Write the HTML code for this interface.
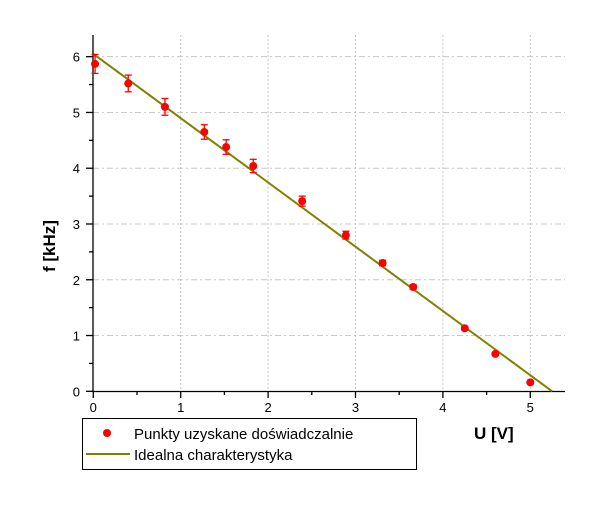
<!DOCTYPE html>
<html><head><meta charset="utf-8"><style>
body{margin:0;background:#fff;}
svg{display:block;font-family:"Liberation Sans",sans-serif;}
</style></head><body>
<svg id="c" width="600" height="505"></svg>
<script>
const xVals=[0.02,0.4,0.82,1.27,1.52,1.83,2.39,2.89,3.31,3.66,4.25,4.6,5.0];
const yVals=[5.87,5.52,5.1,4.65,4.38,4.04,3.41,2.8,2.3,1.87,1.13,0.67,0.16];
const yErr=[0.17,0.15,0.15,0.13,0.13,0.12,0.09,0.07,0.05,0.04,0.03,0.02,0.01];
const lineX=[0,5.25];
const lineY=[6.05,0];
const xTicks=[0,1,2,3,4,5];
const yTicks=[0,1,2,3,4,5,6];
const NS="http://www.w3.org/2000/svg";
const svg=document.getElementById('c');
const X=v=>93.3+v*87.4, Y=v=>391.3-v*55.77;
function mk(t,a,p){const e=document.createElementNS(NS,t);for(const k in a)e.setAttribute(k,a[k]);(p||svg).appendChild(e);return e;}
const grid=mk('g',{});


xTicks.slice(1).forEach(v=>mk('line',{x1:X(v),x2:X(v),y1:35,y2:391,stroke:'#c8c8c8','stroke-dasharray':'2,2'},grid));
yTicks.slice(1).forEach(v=>mk('line',{x1:93,x2:565,y1:Y(v),y2:Y(v),stroke:'#c8c8c8','stroke-dasharray':'6,3,2,3'},grid));
const ax=mk('g',{stroke:'#000','stroke-width':1.3});


mk('line',{x1:93,x2:93,y1:35,y2:392},ax);
mk('line',{x1:92,x2:565,y1:391.5,y2:391.5},ax);
for(let v=0;v<=5.01;v+=0.5)mk('line',{x1:X(v),x2:X(v),y1:391,y2:v%1===0?398:395},ax);
for(let v=0;v<=6.01;v+=0.5)mk('line',{x1:v%1===0?86:89,x2:93,y1:Y(v),y2:Y(v)},ax);
xTicks.forEach(v=>{const t=mk('text',{x:X(v),y:412,'text-anchor':'middle','font-size':13});t.textContent=v;
});
yTicks.forEach(v=>{const t=mk('text',{x:80,y:Y(v)+5,'text-anchor':'end','font-size':13});t.textContent=v;
});
const ln=mk('line',{x1:X(lineX[0]),y1:Y(lineY[0]),x2:X(lineX[1]),y2:Y(lineY[1]),stroke:'#808000','stroke-width':2});


xVals.forEach((x,i)=>{const g=mk('g',{stroke:'#f00','stroke-width':1.3});


const cx=X(x),y1=Y(yVals[i]+yErr[i]),y2=Y(yVals[i]-yErr[i]);
mk('line',{x1:cx,x2:cx,y1:y1,y2:y2},g);
mk('line',{x1:cx-3.5,x2:cx+3.5,y1:y1,y2:y1},g);
mk('line',{x1:cx-3.5,x2:cx+3.5,y1:y2,y2:y2},g);
mk('circle',{cx:cx,cy:Y(yVals[i]),r:4,fill:'#f00',stroke:'none'},g);});
</script>
<svg width="600" height="505" style="position:absolute;left:0;top:0">
<text x="55" y="246" transform="rotate(-90 55 246)" text-anchor="middle" font-size="17" font-weight="bold" font-family="Liberation Sans,sans-serif">f [kHz]</text>
<text x="474" y="439" font-size="17" font-weight="bold" font-family="Liberation Sans,sans-serif">U [V]</text>
<g>
<rect x="82.5" y="418.5" width="334" height="51" fill="#fff" stroke="#000"/>
<circle cx="107" cy="433" r="4" fill="#f00"/>
<text x="134" y="439" font-size="15" font-family="Liberation Sans,sans-serif">Punkty uzyskane doświadczalnie</text>
<line x1="86" x2="130" y1="454" y2="454" stroke="#808000" stroke-width="2"/>
<text x="134" y="460" font-size="15" font-family="Liberation Sans,sans-serif">Idealna charakterystyka</text>
</g>
</svg>
</body></html>
